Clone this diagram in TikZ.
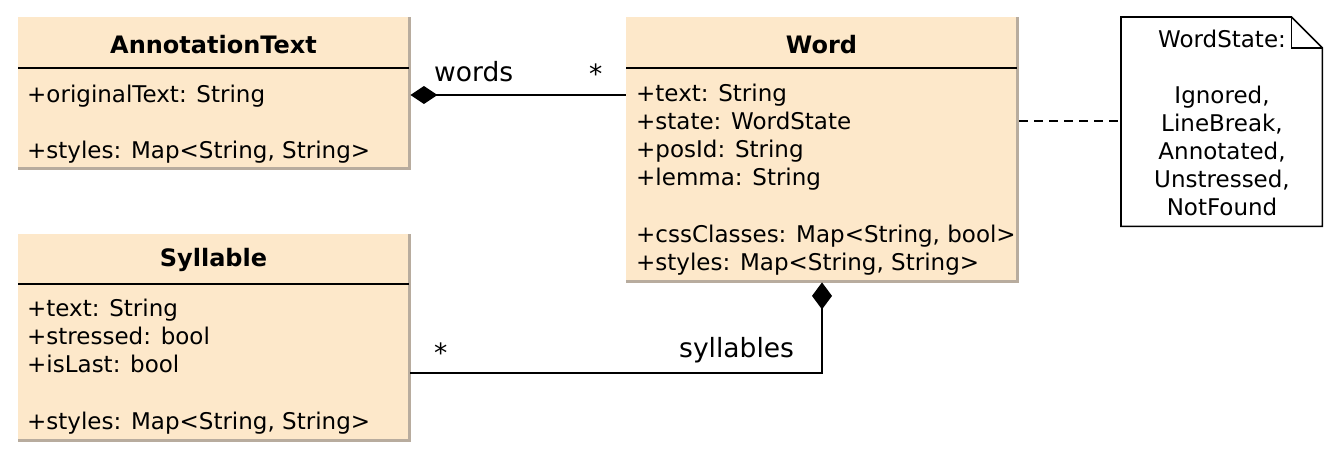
\documentclass[tikz,border=0pt]{standalone}
\usepackage{fontspec}
\setmainfont{DejaVu Sans}
\usetikzlibrary{calc,arrows.meta}
\definecolor{boxfill}{HTML}{FDE8CA}
\definecolor{boxedge}{HTML}{B8AC9E}
\begin{document}
\begin{tikzpicture}[x=1pt,y=-1pt,
  umlbox/.style={fill=boxfill, draw=none, inner sep=0, anchor=north west},
  attr/.style={inner sep=0, anchor=base west, font=\fontsize{23}{27}\selectfont},
  ttl/.style={inner sep=0, anchor=base, font=\fontsize{24}{28}\selectfont\bfseries},
  notetxt/.style={inner sep=0, anchor=base, font=\fontsize{23}{27}\selectfont},
  lbl/.style={inner sep=0, anchor=base west, font=\fontsize{26.5}{30}\selectfont},
  conn/.style={line width=1.6pt, black},
  edge/.style={boxedge, line width=2.2pt},
  sep/.style={line width=1.6pt, black}
]
\useasboundingbox (0,0) rectangle (1338,458);

% AnnotationText
\node[umlbox, minimum width=391pt, minimum height=151pt] (at) at (18,17) {};
\draw[edge] (at.north east) -- (at.south east) -- (at.south west);
\draw[sep] ($(at.north west)+(0,51)$) -- ($(at.north east)+(0,51)$);
\node[ttl] (atT) at (213.5,53) {AnnotationText};
\node[attr] (at1) at (27,102) {+originalText: String};
\node[attr] (at2) at (27,158) {+styles: Map<String, String>};

% Word
\node[umlbox, minimum width=391pt, minimum height=264pt] (word) at (626,17) {};
\draw[edge] (word.north east) -- (word.south east) -- (word.south west);
\draw[sep] ($(word.north west)+(0,51)$) -- ($(word.north east)+(0,51)$);
\node[ttl] (wT) at (821.5,53) {Word};
\node[attr] (w1) at (636,101) {+text: String};
\node[attr] (w2) at (636,129) {+state: WordState};
\node[attr] (w3) at (636,157) {+posId: String};
\node[attr] (w4) at (636,185) {+lemma: String};
\node[attr] (w5) at (636,242) {+cssClasses: Map<String, bool>};
\node[attr] (w6) at (636,270) {+styles: Map<String, String>};

% Syllable
\node[umlbox, minimum width=391pt, minimum height=206pt] (syl) at (18,234) {};
\draw[edge] (syl.north east) -- (syl.south east) -- (syl.south west);
\draw[sep] ($(syl.north west)+(0,50)$) -- ($(syl.north east)+(0,50)$);
\node[ttl] (sT) at (213.5,266) {Syllable};
\node[attr] (s1) at (27,316) {+text: String};
\node[attr] (s2) at (27,344) {+stressed: bool};
\node[attr] (s3) at (27,372) {+isLast: bool};
\node[attr] (s4) at (27,429) {+styles: Map<String, String>};

% Note
\node[inner sep=0, minimum width=201pt, minimum height=209pt, anchor=north west] (note) at (1121,17) {};
\draw[line width=1.6pt, fill=white] (note.north west) -- ($(note.north east)+(-31,0)$) -- ($(note.north east)+(0,31)$) -- (note.south east) -- (note.south west) -- cycle;
\draw[line width=1.6pt] ($(note.north east)+(-31,0)$) -- ($(note.north east)+(-31,31)$) -- ($(note.north east)+(0,31)$);
\node[notetxt] (n0) at (1222,47) {WordState:};
\node[notetxt] (n1) at (1222,103) {Ignored,};
\node[notetxt] (n2) at (1222,131) {LineBreak,};
\node[notetxt] (n3) at (1222,159) {Annotated,};
\node[notetxt] (n4) at (1222,187) {Unstressed,};
\node[notetxt] (n5) at (1222,215) {NotFound};

% connectors
\coordinate (wa) at ($(at.north east)+(1,78)$);
\draw[conn, {Diamond[length=27pt,width=18pt]}-] (wa) -- (wa -| word.west);
\node[lbl] (lw) at (434,81) {words};
\node[lbl] (lws) at (589,83) {*};

\coordinate (sa) at ($(syl.north east)+(1,139)$);
\draw[conn, -{Diamond[length=27pt,width=20pt]}] (sa) -| ($(word.south west)+(196,1)$);
\node[lbl] (ls) at (679,357) {syllables};
\node[lbl] (lss) at (434,362) {*};

\coordinate (da) at ($(word.north east)+(2,104)$);
\draw[conn, dash pattern=on 9pt off 6pt] (da) -- (da -| note.west);
\end{tikzpicture}
\end{document}
